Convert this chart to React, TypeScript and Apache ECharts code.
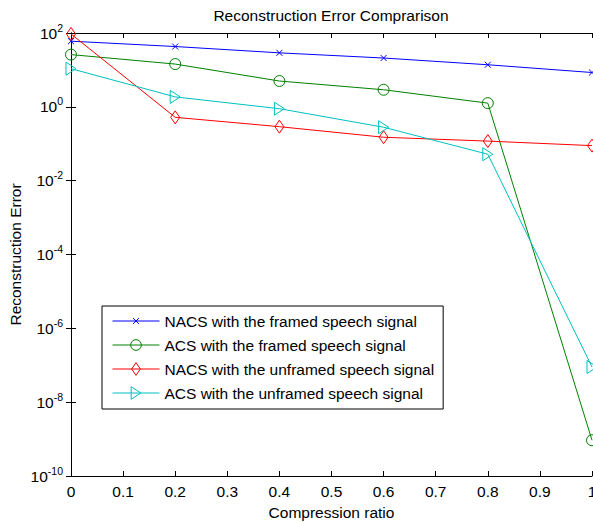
import React, { useEffect, useRef } from "react";
import * as echarts from "echarts";

const ratios = [0, 0.2, 0.4, 0.6, 0.8, 1.0];
const nacsFramed = [60, 43, 29, 21, 13.8, 8.5];
const acsFramed = [26, 14.4, 5.0, 2.9, 1.26, 9.3e-10];
const nacsUnframed = [94, 0.52, 0.29, 0.15, 0.118, 0.089];
const acsUnframed = [10.8, 1.86, 0.89, 0.28, 0.052, 9e-8];
const seriesNames = [
  "NACS with the framed speech signal",
  "ACS with the framed speech signal",
  "NACS with the unframed speech signal",
  "ACS with the unframed speech signal",
];

const FONT = "Liberation Sans, Arial, sans-serif";
const FS = 15.5;

// marker shapes drawn inside a 14x14 box so that plot and legend sizes match
const CROSS = "path://M0,0M14,14M4,4L10,10M10,4L4,10";
const CIRCLE = "path://M0,0M14,14M12.5,7A5.5,5.5 0 1 1 1.5,7A5.5,5.5 0 1 1 12.5,7Z";
const DIAMOND = "path://M0,0M14,14M7,0.5L11.5,7L7,13.5L2.5,7Z";
const TRIANGLE = "path://M0,0M14,14M2,0.5L12,7L2,13.5Z";

export default function App() {
  const ref = useRef<HTMLDivElement>(null);
  useEffect(() => {
    if (!ref.current) return;
    const chart = echarts.init(ref.current, undefined, { renderer: "svg" });
    const pair = (ys: number[]) => ratios.map((x, i) => [x, ys[i]]);
    const mk = (name: string, ys: number[], color: string, symbol: string) => ({
      name,
      type: "line",
      data: pair(ys),
      symbol,
      symbolSize: 14,
      showAllSymbol: true,
      lineStyle: { color, width: 1 },
      itemStyle: { color: "rgba(0,0,0,0)", borderColor: color, borderWidth: 1 },
      emphasis: { disabled: true },
      z: 3,
    });
    const yLabel = (v: number) => {
      const e = Math.round(Math.log10(v));
      return "{b|10}{s|" + e + "}";
    };
    const axisCommon = {
      axisLine: { show: true, lineStyle: { color: "#000", width: 1 } },
      axisTick: { show: true, inside: true, length: 5, lineStyle: { color: "#000" } },
      splitLine: { show: false },
      minorTick: { show: false },
    };
    chart.setOption({
      animation: false,
      backgroundColor: "#fff",
      textStyle: { fontFamily: FONT },
      graphic: [
        {
          type: "text",
          x: 331,
          y: 15,
          style: {
            text: "Reconstruction Error Comprarison",
            font: FS + "px " + FONT,
            fill: "#000",
            textAlign: "center",
            textVerticalAlign: "middle",
          },
        },
      ],
      grid: { left: 71, top: 33, right: 1, bottom: 47, containLabel: false, outerBoundsMode: "none" },
      legend: {
        orient: "vertical",
        left: 102,
        top: 306,
        data: seriesNames,
        backgroundColor: "#fff",
        borderColor: "#000",
        borderWidth: 1,
        borderRadius: 0,
        padding: [7, 9, 8, 10],
        itemWidth: 47,
        itemHeight: 17,
        itemGap: 8,
        selectedMode: false,
        lineStyle: { width: 1 },
        itemStyle: { borderWidth: 1 },
        textStyle: { fontSize: FS, color: "#000", fontFamily: FONT },
      },
      xAxis: [
        {
          type: "value",
          min: 0,
          max: 1,
          interval: 0.1,
          name: "Compression ratio",
          nameLocation: "middle",
          nameGap: 28,
          nameMoveOverlap: false,
          nameTextStyle: { fontSize: FS, color: "#000", fontFamily: FONT },
          axisLabel: {
            fontSize: FS,
            color: "#000",
            margin: 7,
            fontFamily: FONT,
            formatter: (v: number) => String(+v.toFixed(1)),
          },
          ...axisCommon,
        },
        {
          type: "value",
          position: "top",
          min: 0,
          max: 1,
          interval: 0.1,
          axisLabel: { show: false },
          ...axisCommon,
        },
      ],
      yAxis: [
        {
          type: "log",
          logBase: 10,
          min: 1e-10,
          max: 100,
          interval: 2,
          name: "Reconstruction Error",
          nameLocation: "middle",
          nameGap: 48,
          nameMoveOverlap: false,
          nameTextStyle: { fontSize: FS, color: "#000", fontFamily: FONT },
          axisLabel: {
            color: "#000",
            margin: 8,
            formatter: yLabel,
            rich: {
              b: { fontSize: FS, fontFamily: FONT, color: "#000" },
              s: { fontSize: 10.5, fontFamily: FONT, color: "#000", padding: [0, 0, 11, 0] },
            },
          },
          ...axisCommon,
        },
        {
          type: "log",
          logBase: 10,
          min: 1e-10,
          max: 100,
          interval: 2,
          position: "right",
          axisLabel: { show: false },
          ...axisCommon,
        },
      ],
      series: [
        mk(seriesNames[0], nacsFramed, "#0000ff", CROSS),
        mk(seriesNames[1], acsFramed, "#008000", CIRCLE),
        mk(seriesNames[2], nacsUnframed, "#ff0000", DIAMOND),
        mk(seriesNames[3], acsUnframed, "#00bfbf", TRIANGLE),
      ],
    });
    return () => chart.dispose();
  }, []);
  return (
    <div
      ref={ref}
      style={{ position: "fixed", left: 0, top: 0, width: 593, height: 523, background: "#fff" }}
    />
  );
}
